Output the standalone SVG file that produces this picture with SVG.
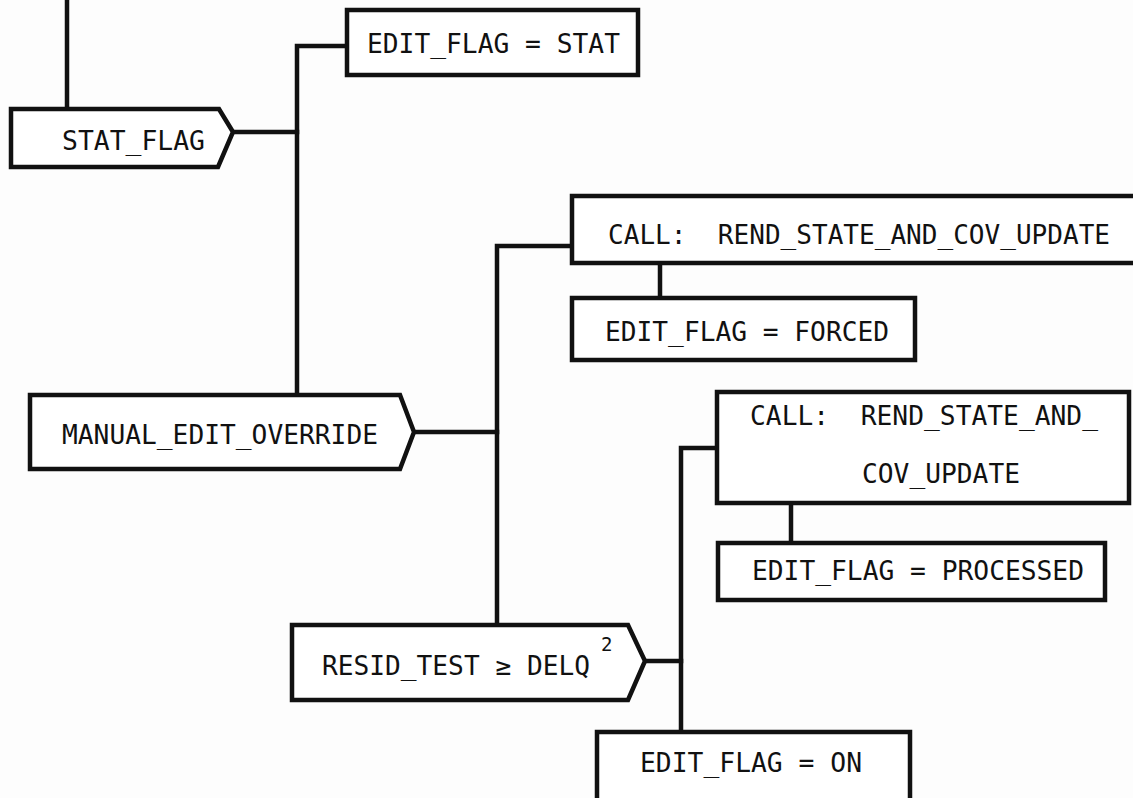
<svg xmlns="http://www.w3.org/2000/svg" width="1133" height="798" viewBox="0 0 1133 798">
<style>
.bg{fill:#fdfdfd}
.box{fill:#ffffff;stroke:#111;stroke-width:4.5;stroke-linejoin:miter}
.ln{fill:none;stroke:#111;stroke-width:4.5;stroke-linecap:square}
.t{font-family:"DejaVu Sans Mono","Liberation Mono",monospace;font-size:27px;fill:#111;white-space:pre}
.sup{font-size:19px}
</style>
<rect class="bg" x="0" y="0" width="1133" height="798"/>
<g id="connectors">
<path class="ln" d="M67,0 V109"/>
<path class="ln" d="M233,132 H297"/>
<path class="ln" d="M297,395 V46 H347"/>
<path class="ln" d="M414,432 H497"/>
<path class="ln" d="M497,625 V246 H572"/>
<path class="ln" d="M660,263 V298"/>
<path class="ln" d="M645,661 H681"/>
<path class="ln" d="M681,732 V448 H717"/>
<path class="ln" d="M791,503 V543"/>
</g>
<g id="stat_flag">
<path class="box" d="M11,109 H219 L233,132 L218,167 H11 Z"/>
<text class="t" x="62" y="150" textLength="143" lengthAdjust="spacingAndGlyphs">STAT_FLAG</text>
</g>
<g id="edit_flag_stat">
<rect class="box" x="347" y="10" width="291" height="65"/>
<text class="t" x="367" y="53" textLength="253" lengthAdjust="spacingAndGlyphs">EDIT_FLAG = STAT</text>
</g>
<g id="manual_edit_override">
<path class="box" d="M30,395 H400 L414,432 L400,469 H30 Z"/>
<text class="t" x="62" y="444" textLength="316" lengthAdjust="spacingAndGlyphs">MANUAL_EDIT_OVERRIDE</text>
</g>
<g id="call_rend_1">
<rect class="box" x="572" y="196" width="566" height="67"/>
<text class="t" x="608" y="244" textLength="502" lengthAdjust="spacingAndGlyphs" xml:space="preserve">CALL:  REND_STATE_AND_COV_UPDATE</text>
</g>
<g id="edit_flag_forced">
<rect class="box" x="572" y="298" width="343" height="62"/>
<text class="t" x="605" y="341" textLength="284" lengthAdjust="spacingAndGlyphs">EDIT_FLAG = FORCED</text>
</g>
<g id="call_rend_2">
<rect class="box" x="717" y="392" width="412" height="111"/>
<text class="t" x="750" y="425" textLength="348" lengthAdjust="spacingAndGlyphs" xml:space="preserve">CALL:  REND_STATE_AND_</text>
<text class="t" x="862" y="483" textLength="158" lengthAdjust="spacingAndGlyphs">COV_UPDATE</text>
</g>
<g id="edit_flag_processed">
<rect class="box" x="718" y="543" width="387" height="57"/>
<text class="t" x="752" y="580" textLength="332" lengthAdjust="spacingAndGlyphs">EDIT_FLAG = PROCESSED</text>
</g>
<g id="resid_test">
<path class="box" d="M292,625 H628 L645,661 L628,700 H292 Z"/>
<text class="t" x="322" y="675" textLength="268" lengthAdjust="spacingAndGlyphs">RESID_TEST ≥ DELQ</text>
<text class="t sup" x="601" y="651">2</text>
</g>
<g id="edit_flag_on">
<rect class="box" x="597" y="732" width="313" height="90"/>
<text class="t" x="640" y="772" textLength="222" lengthAdjust="spacingAndGlyphs">EDIT_FLAG = ON</text>
</g>
</svg>
